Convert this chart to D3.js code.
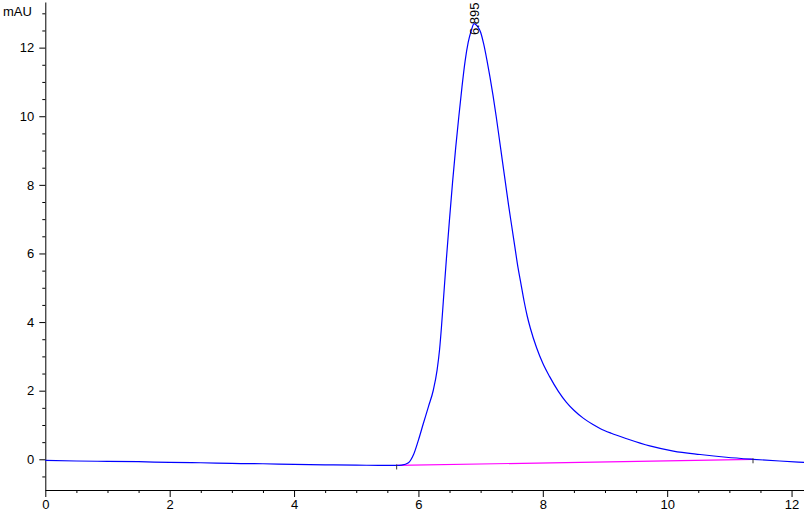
<!DOCTYPE html>
<html>
<head>
<meta charset="utf-8">
<script src="https://cdn.jsdelivr.net/npm/d3@7"></script>
<style>
  html, body { margin: 0; padding: 0; background: #fff; }
  svg { display: block; font-family: "Liberation Sans", Arial, sans-serif; }
</style>
</head>
<body>
<svg id="chart" width="804" height="513"></svg>
<script>
// ---- data ----
const yUnit = "mAU";
const peakTime = 6.895;
const peakLabel = "6.895";
const times = [0, 0.5, 1, 1.5, 2, 2.5, 3, 3.5, 4, 4.5, 5, 5.5, 5.65, 5.73, 5.84, 5.92, 6.00, 6.08, 6.16, 6.24, 6.30, 6.34, 6.37, 6.40, 6.45, 6.50, 6.55, 6.60, 6.65, 6.70, 6.75, 6.80, 6.85, 6.895, 6.95, 7.00, 7.05, 7.10, 7.15, 7.20, 7.25, 7.30, 7.35, 7.40, 7.45, 7.50, 7.55, 7.60, 7.65, 7.70, 7.75, 7.80, 7.90, 8.00, 8.11, 8.25, 8.38, 8.50, 8.65, 8.80, 8.92, 9.10, 9.35, 9.72, 10.10, 10.53, 10.95, 11.38, 11.81, 12.2];
const signal = [-0.03, -0.05, -0.06, -0.07, -0.09, -0.10, -0.12, -0.13, -0.15, -0.16, -0.17, -0.18, -0.18, -0.17, -0.10, 0.13, 0.56, 1.05, 1.53, 2.02, 2.60, 3.20, 3.85, 4.60, 5.85, 7.00, 8.10, 9.10, 10.00, 10.85, 11.60, 12.15, 12.50, 12.70, 12.62, 12.45, 12.10, 11.65, 11.15, 10.60, 10.00, 9.35, 8.70, 8.05, 7.40, 6.80, 6.20, 5.60, 5.10, 4.60, 4.17, 3.82, 3.25, 2.80, 2.41, 1.98, 1.66, 1.43, 1.20, 1.02, 0.90, 0.76, 0.60, 0.39, 0.24, 0.14, 0.06, 0.00, -0.05, -0.09];
const baselineTimes = [5.65, 11.38];
const baselineValues = [-0.18, 0.00];
const xMajorTicks = [0, 2, 4, 6, 8, 10, 12];
const yMajorTicks = [0, 2, 4, 6, 8, 10, 12];

// ---- layout ----
const svg = d3.select("#chart");
const x = d3.scaleLinear().domain([0, 12.2]).range([45.3, 804]);
const y = d3.scaleLinear().domain([-0.895, 13.33]).range([490, 2]);

const xMinor = d3.range(0, 12.2001, 0.5).filter(v => !xMajorTicks.includes(v));
const yMinor = d3.range(-0.5, 13.3, 0.5).filter(v => !yMajorTicks.includes(+v.toFixed(2)));

// X axis
const gx = svg.append("g").attr("transform", `translate(0,${y.range()[0]})`);
gx.call(d3.axisBottom(x).tickValues(xMajorTicks).tickSize(7).tickPadding(3).tickSizeOuter(0).tickFormat(d3.format("d")));
gx.append("g").call(d3.axisBottom(x).tickValues(xMinor).tickSize(3).tickFormat("").tickSizeOuter(0))
  .select(".domain").remove();

// Y axis
const gy = svg.append("g").attr("transform", `translate(${x.range()[0]},0)`);
gy.call(d3.axisLeft(y).tickValues(yMajorTicks).tickSize(6).tickPadding(5).tickSizeOuter(0).tickFormat(d3.format("d")));
gy.append("g").call(d3.axisLeft(y).tickValues(yMinor).tickSize(3).tickFormat("").tickSizeOuter(0))
  .select(".domain").remove();

svg.selectAll(".tick text").attr("font-size", 13).attr("font-family", "Liberation Sans, Arial, sans-serif").attr("fill", "#000");
svg.selectAll(".domain, .tick line").attr("stroke", "#000").attr("stroke-width", 1);

// unit label
svg.append("text").attr("x", 3).attr("y", 16).attr("font-size", 13).attr("fill", "#000").text(yUnit);

// baseline (magenta)
const baseData = baselineTimes.map((t, i) => [t, baselineValues[i]]);
svg.append("path")
  .datum(baseData)
  .attr("fill", "none").attr("stroke", "#ff00ff").attr("stroke-width", 1.2)
  .attr("d", d3.line().x(d => x(d[0])).y(d => y(d[1])));

// signal (blue)
const sigData = times.map((t, i) => [t, signal[i]]);
svg.append("path")
  .datum(sigData)
  .attr("fill", "none").attr("stroke", "#0000ff").attr("stroke-width", 1.2)
  .attr("d", d3.line().curve(d3.curveMonotoneX).x(d => x(d[0])).y(d => y(d[1])));

// integration start/end markers
baseData.forEach(d => {
  svg.append("line")
    .attr("x1", x(d[0])).attr("x2", x(d[0]))
    .attr("y1", y(d[1]) - 1).attr("y2", y(d[1]) + 4)
    .attr("stroke", "#333").attr("stroke-width", 1);
});

// peak label (rotated)
const peakVal = d3.max(signal);
const px = x(peakTime) + 5, py = y(peakVal) + 11.5;
svg.append("text")
  .attr("transform", `translate(${px},${py}) rotate(-90)`)
  .attr("font-size", 13).attr("fill", "#000")
  .text(peakLabel);
</script>
</body>
</html>
